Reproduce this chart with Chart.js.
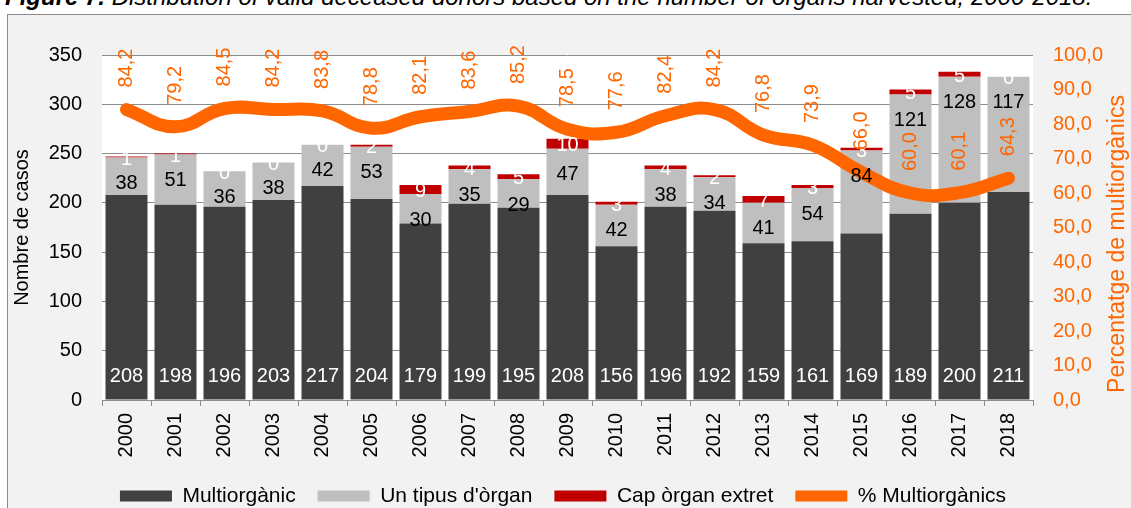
<!DOCTYPE html>
<html>
<head>
<meta charset="utf-8">
<script src="https://cdn.jsdelivr.net/npm/chart.js@4.4.1/dist/chart.umd.min.js"></script>
<style>
  html, body { margin: 0; padding: 0; background: #fff; width: 1131px; height: 508px; overflow: hidden;
    font-family: "Liberation Sans", Arial, sans-serif; }
  #title { position: absolute; left: 5px; top: -15px; font-size: 24px; line-height: 24px; font-style: italic; white-space: nowrap; }
  #box { position: absolute; left: 7px; top: 14px; width: 1124px; height: 494px; box-sizing: border-box;
    background: #f2f2f2; border-left: 1px solid #8c8c8c; border-top: 1px solid #8c8c8c; }
  #box canvas { display: block; }
</style>
</head>
<body>
<div id="title"><b>Figure 7.</b> Distribution of valid deceased donors based on the number of organs harvested, 2000-2018.</div>
<div id="box"><canvas id="chart" width="1123" height="493"></canvas></div>
<script>
const years = ['2000', '2001', '2002', '2003', '2004', '2005', '2006', '2007', '2008', '2009',
  '2010', '2011', '2012', '2013', '2014', '2015', '2016', '2017', '2018'];
const multi = [208, 198, 196, 203, 217, 204, 179, 199, 195, 208, 156, 196, 192, 159, 161, 169, 189, 200, 211];
const single = [38, 51, 36, 38, 42, 53, 30, 35, 29, 47, 42, 38, 34, 41, 54, 84, 121, 128, 117];
const none = [1, 1, 0, 0, 0, 2, 9, 4, 5, 10, 3, 4, 2, 7, 3, 3, 5, 5, 0];
const pctMulti = [84.2, 79.2, 84.5, 84.2, 83.8, 78.8, 82.1, 83.6, 85.2, 78.5, 77.6, 82.4, 84.2, 76.8, 73.9, 66.0, 60.0, 60.1, 64.3];

const DARK = '#404040';
const GREY = '#bfbfbf';
const RED = '#c00000';
const ORANGE = '#ff6600';
const FONT = "'Liberation Sans', Arial, sans-serif";

const fmt = v => v.toFixed(1).replace('.', ',');

Chart.defaults.font.family = FONT;
Chart.defaults.font.size = 20;
Chart.defaults.color = '#000';

// white plot area
const plotBg = {
  id: 'plotBg',
  beforeDraw(chart) {
    const { ctx, chartArea: a } = chart;
    ctx.save();
    ctx.fillStyle = '#fff';
    ctx.fillRect(a.left, a.top, a.right - a.left, a.bottom - a.top);
    ctx.restore();
  }
};

// data labels on bars and line, plus the right axis title (reads bottom to top)
const valueLabels = {
  id: 'valueLabels',
  afterDatasetsDraw(chart) {
    const ctx = chart.ctx;
    const dark = chart.getDatasetMeta(0).data;
    const grey = chart.getDatasetMeta(1).data;
    const red = chart.getDatasetMeta(2).data;
    const line = chart.getDatasetMeta(3).data;
    ctx.save();
    ctx.font = '20px ' + FONT;
    ctx.textAlign = 'center';
    ctx.textBaseline = 'middle';
    years.forEach((y, i) => {
      ctx.fillStyle = '#fff';
      ctx.fillText(String(multi[i]), dark[i].x, dark[i].base - 23);
      ctx.fillStyle = '#000';
      ctx.fillText(String(single[i]), grey[i].x, grey[i].y + 26);
      ctx.fillStyle = '#fff';
      ctx.fillText(String(none[i]), red[i].x, (red[i].y + red[i].base) / 2 + 2);
    });
    years.forEach((y, i) => {
      ctx.save();
      ctx.translate(line[i].x, line[i].y - 22);
      ctx.rotate(-Math.PI / 2);
      ctx.textAlign = 'left';
      ctx.fillStyle = ORANGE;
      ctx.fillText(fmt(pctMulti[i]), 0, 0);
      ctx.restore();
    });
    const r = chart.scales.y2;
    ctx.translate(r.right, 229);
    ctx.rotate(-Math.PI / 2);
    ctx.font = '23px ' + FONT;
    ctx.fillStyle = ORANGE;
    ctx.fillText('Percentatge de multiorgànics', 0, 0);
    ctx.restore();
  }
};

new Chart(document.getElementById('chart'), {
  type: 'bar',
  data: {
    labels: years,
    datasets: [
      { label: 'Multiorgànic', data: multi, backgroundColor: DARK, stack: 's', order: 1, yAxisID: 'y' },
      { label: "Un tipus d'òrgan", data: single, backgroundColor: GREY, stack: 's', order: 1, yAxisID: 'y' },
      { label: 'Cap òrgan extret', data: none, backgroundColor: RED, stack: 's', order: 1, yAxisID: 'y' },
      { type: 'line', label: '% Multiorgànics', data: pctMulti, borderColor: ORANGE, backgroundColor: ORANGE,
        borderWidth: 13, tension: 0.45, pointRadius: 0, borderCapStyle: 'round', borderJoinStyle: 'round',
        order: 0, yAxisID: 'y2' }
    ]
  },
  options: {
    responsive: false,
    animation: false,
    datasets: { bar: { categoryPercentage: 1, barPercentage: 0.857 } },
    layout: { padding: { top: 40, left: 0, right: 13, bottom: -8.5 } },
    scales: {
      x: {
        stacked: true,
        grid: { display: true, drawOnChartArea: false, drawTicks: true, tickLength: 6, color: '#8c8c8c', offset: true },
        border: { display: true, color: '#8c8c8c' },
        ticks: { minRotation: 90, maxRotation: 90, padding: 7, color: '#000', font: { size: 20 } },
        afterFit(s) { s.height = 63.5; }
      },
      y: {
        stacked: true,
        position: 'left',
        min: 0, max: 350,
        ticks: { stepSize: 50, padding: 20, color: '#000', font: { size: 20 } },
        grid: { color: '#8c8c8c', drawTicks: false },
        border: { display: false },
        title: { display: true, text: 'Nombre de casos', color: '#000', font: { size: 20 }, padding: { top: 2, bottom: 0 } },
        afterFit(s) { s.width = 94; }
      },
      y2: {
        position: 'right',
        min: 0, max: 100,
        ticks: { stepSize: 10, padding: 20, color: ORANGE, font: { size: 20 }, callback: v => fmt(v) },
        grid: { display: false, drawTicks: false },
        border: { display: false },
        afterFit(s) { s.width = 85; }
      }
    },
    plugins: {
      tooltip: { enabled: false },
      legend: {
        position: 'bottom',
        labels: {
          boxWidth: 52,
          boxHeight: 11,
          padding: 22,
          color: '#000',
          font: { size: 21 },
          generateLabels(chart) {
            return chart.data.datasets.map((d, i) => ({
              text: d.label,
              fillStyle: d.backgroundColor,
              strokeStyle: d.backgroundColor,
              lineWidth: 0,
              hidden: false,
              datasetIndex: i
            }));
          }
        }
      }
    }
  },
  plugins: [plotBg, valueLabels]
});
</script>
</body>
</html>
